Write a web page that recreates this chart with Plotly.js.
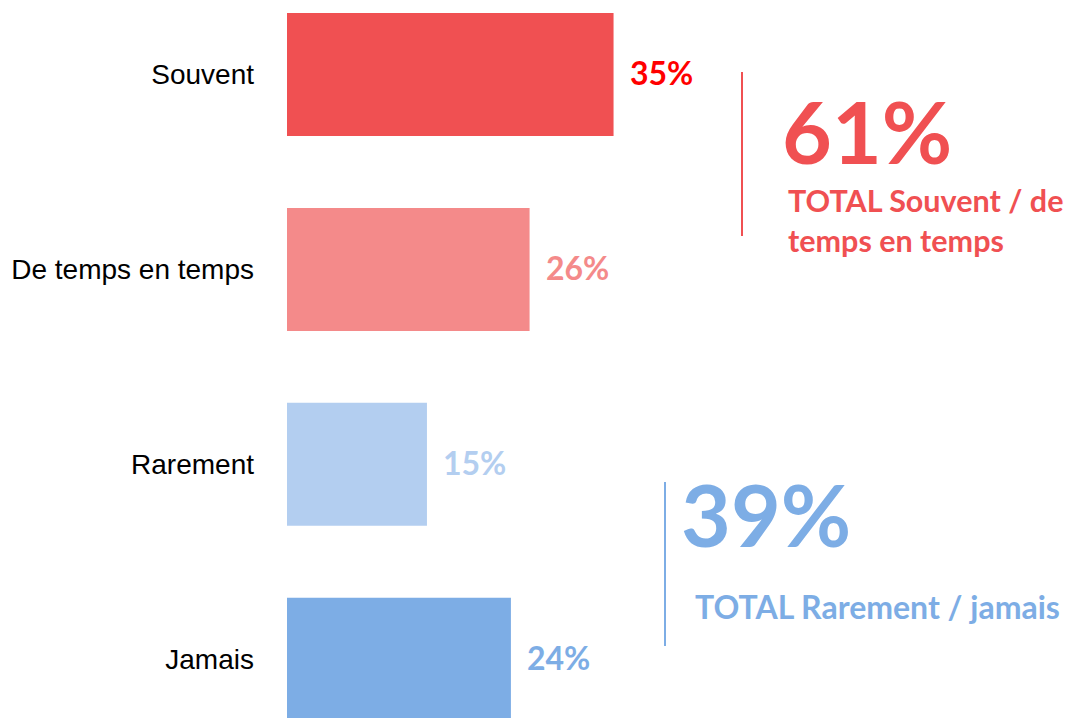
<!DOCTYPE html>
<html>
<head>
<meta charset="utf-8">
<script src="https://cdn.plot.ly/plotly-3.0.1.min.js"></script>
<style>html,body{margin:0;padding:0;background:#fff;}#chart{width:1074px;height:718px;}</style>
</head>
<body>
<div id="chart"></div>
<script>
const categories = ["Souvent", "De temps en temps", "Rarement", "Jamais"];
const values = [35, 26, 15, 24];
const valueLabels = ["35%", "26%", "15%", "24%"];
const barColors = ["#F05052", "#F48A8A", "#B3CEF0", "#7DADE5"];
const labelColors = ["#FF0000", "#F48A8A", "#B3CEF0", "#7DADE5"];
const totalValues = ["61%", "39%"];
const totalTexts = ["TOTAL Souvent / de<br>temps en temps", "TOTAL Rarement / jamais"];
const totalColors = ["#F05052", "#7DADE5"];

const W = 1074, H = 718, L = 287;
const px = x => (x - L) / (W - L);
const py = y => 1 - y / H;

const trace = {
  type: "bar",
  orientation: "h",
  x: values,
  y: categories,
  width: 0.631,
  marker: {color: barColors, line: {width: 0}},
  hoverinfo: "none"
};

const annotations = values.map((v, i) => ({
  x: v, y: categories[i], xref: "x", yref: "y",
  text: valueLabels[i], showarrow: false,
  xanchor: "left", yanchor: "middle", xshift: 14, yshift: 2,
  font: {family: "Lato", size: 32, color: labelColors[i], weight: 700}
}));

annotations.push(
  {xref: "paper", yref: "paper", x: px(780), y: py(130.5), xanchor: "left", yanchor: "middle",
   text: totalValues[0], showarrow: false,
   font: {family: "Lato", size: 86, color: totalColors[0], weight: 700}},
  {xref: "paper", yref: "paper", x: px(786), y: py(220), xanchor: "left", yanchor: "middle",
   text: totalTexts[0], showarrow: false, align: "left",
   font: {family: "Lato", size: 30.5, color: totalColors[0], weight: 700}},
  {xref: "paper", yref: "paper", x: px(679), y: py(513.5), xanchor: "left", yanchor: "middle",
   text: totalValues[1], showarrow: false,
   font: {family: "Lato", size: 86, color: totalColors[1], weight: 700}},
  {xref: "paper", yref: "paper", x: px(693), y: py(606), xanchor: "left", yanchor: "middle",
   text: totalTexts[1], showarrow: false, align: "left",
   font: {family: "Lato", size: 32, color: totalColors[1], weight: 700}}
);

const shapes = [
  {type: "line", xref: "paper", yref: "paper", x0: px(742), x1: px(742), y0: py(72), y1: py(236),
   line: {color: totalColors[0], width: 2}},
  {type: "line", xref: "paper", yref: "paper", x0: px(665), x1: px(665), y0: py(482), y1: py(646),
   line: {color: totalColors[1], width: 2}}
];

const layout = {
  width: W, height: H,
  margin: {l: L, r: 0, t: 0, b: 0, pad: 0},
  paper_bgcolor: "#ffffff", plot_bgcolor: "#ffffff",
  showlegend: false,
  xaxis: {range: [0, (W - L) / 9.33], visible: false, fixedrange: true},
  yaxis: {
    type: "category", categoryorder: "array", categoryarray: categories,
    range: [3.3016, -0.3822],
    showgrid: false, zeroline: false, showline: false, ticks: "",
    ticklabelstandoff: 32,
    tickfont: {family: "Liberation Sans, Arial, sans-serif", size: 28, color: "#000000"},
    fixedrange: true
  },
  annotations: annotations,
  shapes: shapes
};

Plotly.newPlot("chart", [trace], layout, {displayModeBar: false, staticPlot: true});
</script>
</body>
</html>
